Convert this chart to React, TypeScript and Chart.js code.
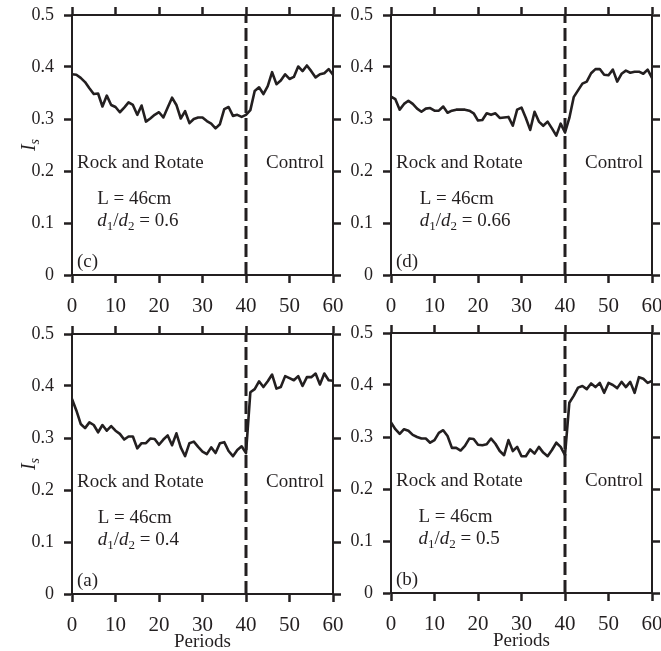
import React, { useEffect, useRef } from 'react';
import { Chart, registerables } from 'chart.js';

Chart.register(...registerables);

// ---------------- data ----------------
const periods = [
  0, 1, 2, 3, 4, 5, 6, 7, 8, 9, 10, 11, 12, 13, 14, 15, 16, 17, 18, 19, 20,
  21, 22, 23, 24, 25, 26, 27, 28, 29, 30, 31, 32, 33, 34, 35, 36, 37, 38, 39, 40,
  41, 42, 43, 44, 45, 46, 47, 48, 49, 50, 51, 52, 53, 54, 55, 56, 57, 58, 59, 60,
];

const xTickValues = [0, 10, 20, 30, 40, 50, 60];
const xTickLabels = ['0', '10', '20', '30', '40', '50', '60'];
const yTickValues = [0, 0.1, 0.2, 0.3, 0.4, 0.5];
const yTickLabels = ['0', '0.1', '0.2', '0.3', '0.4', '0.5'];

const phaseSwitch = 40;
const phaseLabels = ['Rock and Rotate', 'Control'];
const lengthLabel = 'L = 46cm';
const xAxisTitle = 'Periods';

// (c) d1/d2 = 0.6
const seriesC = [
  0.386, 0.385, 0.379, 0.371, 0.359, 0.348, 0.349, 0.324, 0.345, 0.327, 0.323,
  0.313, 0.322, 0.332, 0.327, 0.308, 0.326, 0.295, 0.301, 0.308, 0.313,
  0.303, 0.322, 0.341, 0.327, 0.301, 0.315, 0.292, 0.300, 0.303, 0.303,
  0.296, 0.291, 0.282, 0.290, 0.319, 0.323, 0.306, 0.308, 0.304, 0.308,
  0.317, 0.354, 0.361, 0.348, 0.363, 0.390, 0.367, 0.374, 0.386, 0.377,
  0.381, 0.401, 0.392, 0.403, 0.392, 0.380, 0.386, 0.388, 0.396, 0.385,
];
// (d) d1/d2 = 0.66
const seriesD = [
  0.343, 0.338, 0.318, 0.329, 0.335, 0.329, 0.320, 0.314, 0.320, 0.321, 0.316,
  0.316, 0.324, 0.312, 0.316, 0.318, 0.318, 0.318, 0.316, 0.311, 0.297,
  0.298, 0.311, 0.308, 0.311, 0.302, 0.303, 0.304, 0.287, 0.318, 0.322,
  0.302, 0.279, 0.314, 0.295, 0.287, 0.295, 0.282, 0.268, 0.291, 0.274,
  0.302, 0.342, 0.355, 0.368, 0.372, 0.388, 0.396, 0.396, 0.385, 0.384,
  0.395, 0.372, 0.387, 0.393, 0.389, 0.391, 0.391, 0.387, 0.395, 0.379,
];
// (a) d1/d2 = 0.4
const seriesA = [
  0.375, 0.353, 0.327, 0.319, 0.330, 0.325, 0.311, 0.325, 0.314, 0.323, 0.314,
  0.308, 0.297, 0.303, 0.303, 0.280, 0.290, 0.290, 0.299, 0.298, 0.287,
  0.297, 0.305, 0.286, 0.309, 0.282, 0.265, 0.290, 0.293, 0.283, 0.274,
  0.269, 0.282, 0.271, 0.290, 0.292, 0.275, 0.265, 0.277, 0.284, 0.271,
  0.388, 0.394, 0.409, 0.398, 0.409, 0.422, 0.395, 0.398, 0.419, 0.415,
  0.411, 0.419, 0.400, 0.417, 0.417, 0.424, 0.403, 0.424, 0.411, 0.410,
];
// (b) d1/d2 = 0.5
const seriesB = [
  0.328, 0.315, 0.306, 0.315, 0.312, 0.304, 0.300, 0.297, 0.297, 0.289, 0.294,
  0.308, 0.313, 0.302, 0.279, 0.279, 0.274, 0.283, 0.297, 0.296, 0.285,
  0.284, 0.286, 0.297, 0.287, 0.273, 0.265, 0.294, 0.273, 0.281, 0.263,
  0.263, 0.276, 0.268, 0.281, 0.270, 0.263, 0.275, 0.289, 0.281, 0.265,
  0.366, 0.379, 0.395, 0.398, 0.392, 0.403, 0.396, 0.404, 0.385, 0.404,
  0.400, 0.394, 0.406, 0.396, 0.406, 0.385, 0.415, 0.412, 0.404, 0.408,
];

// ---------------- styling / layout ----------------
const FONT = "'Liberation Serif', 'Times New Roman', serif";
const INK = '#231f20';

interface PanelDef {
  series: number[];
  letter: string;
  ratio: string;
  left: number;
  top: number;
  width: number;
  height: number;
  wy: number;
  wr: number;
  ht: number;
  hx: number;
  yTitle: boolean;
  xTitle: boolean;
  textX: number;
}

const panels: PanelDef[] = [
  { series: seriesC, letter: '(c)', ratio: '0.6', left: 8, top: 3, width: 337, height: 318, wy: 64, wr: 12, ht: 12, hx: 46, yTitle: true, xTitle: false, textX: 5.8 },
  { series: seriesD, letter: '(d)', ratio: '0.66', left: 341, top: 3, width: 320, height: 318, wy: 50, wr: 9, ht: 12, hx: 46, yTitle: false, xTitle: false, textX: 6.6 },
  { series: seriesA, letter: '(a)', ratio: '0.4', left: 8, top: 322, width: 337, height: 331, wy: 64, wr: 12, ht: 12, hx: 59, yTitle: true, xTitle: true, textX: 5.9 },
  { series: seriesB, letter: '(b)', ratio: '0.5', left: 341, top: 321, width: 320, height: 331, wy: 50, wr: 9, ht: 12, hx: 59, yTitle: false, xTitle: true, textX: 6.3 },
];

function drawRatio(ctx: CanvasRenderingContext2D, x: number, y: number, ratio: string) {
  const size = 19;
  const sub = Math.round(size * 0.7);
  const parts = [
    { t: 'd', f: `italic ${size}px ${FONT}`, dy: 0 },
    { t: '1', f: `${sub}px ${FONT}`, dy: size * 0.25 },
    { t: '/', f: `${size}px ${FONT}`, dy: 0 },
    { t: 'd', f: `italic ${size}px ${FONT}`, dy: 0 },
    { t: '2', f: `${sub}px ${FONT}`, dy: size * 0.25 },
    { t: ' = ' + ratio, f: `${size}px ${FONT}`, dy: 0 },
  ];
  let cx = x;
  for (const p of parts) {
    ctx.font = p.f;
    ctx.fillText(p.t, cx, y + p.dy);
    cx += ctx.measureText(p.t).width;
  }
}

const annotPlugin = {
  id: 'annot',
  afterDraw(chart: any, _args: any, opts: any) {
    const { ctx, chartArea, scales } = chart;
    const px = (v: number) => scales.x.getPixelForValue(v);
    const py = (v: number) => scales.y.getPixelForValue(v);
    ctx.save();
    ctx.fillStyle = INK;
    ctx.textBaseline = 'middle';
    ctx.textAlign = 'left';
    ctx.font = `19px ${FONT}`;
    ctx.fillText(phaseLabels[0], px(1.15), py(0.215));
    ctx.fillText(phaseLabels[1], px(44.6), py(0.215));
    ctx.fillText(lengthLabel, px(opts.textX), py(0.146));
    drawRatio(ctx, px(opts.textX), py(0.103), opts.ratio);
    ctx.font = `19px ${FONT}`;
    ctx.fillText(opts.letter, px(1.15), py(0.025));

    if (opts.yTitle) {
      ctx.save();
      ctx.translate(chartArea.left - 42, (chartArea.top + chartArea.bottom) / 2);
      ctx.rotate(-Math.PI / 2);
      ctx.font = `italic 20px ${FONT}`;
      const wI = ctx.measureText('I').width;
      ctx.font = `italic 14px ${FONT}`;
      const wS = ctx.measureText('s').width;
      const start = -(wI + wS) / 2;
      ctx.font = `italic 20px ${FONT}`;
      ctx.fillText('I', start, 0);
      ctx.font = `italic 14px ${FONT}`;
      ctx.fillText('s', start + wI, 5);
      ctx.restore();
    }
    ctx.restore();
  },
};

function axis(kind: 'x' | 'y', position: string, size: number, showLabels: boolean, title?: string) {
  const isX = kind === 'x';
  const values = isX ? xTickValues : yTickValues;
  const labels = isX ? xTickLabels : yTickLabels;
  return {
    type: 'linear',
    position,
    axis: kind,
    min: values[0],
    max: values[values.length - 1],
    afterBuildTicks: (s: any) => {
      s.ticks = values.map((v) => ({ value: v }));
    },
    ticks: {
      display: showLabels,
      callback: (_v: any, i: number) => labels[i],
      font: { family: FONT, size: isX ? 21 : 18 },
      color: INK,
      padding: isX ? 11 : 10,
      maxRotation: 0,
      autoSkip: false,
    },
    grid: {
      display: true,
      drawOnChartArea: false,
      drawTicks: true,
      tickLength: 8,
      tickWidth: 2.5,
      tickColor: INK,
      color: INK,
    },
    border: { display: true, color: INK, width: 2 },
    title: title
      ? { display: true, text: title, font: { family: FONT, size: 19 }, color: INK, padding: { top: 0, bottom: 0 } }
      : { display: false },
    afterFit: (s: any) => {
      if (isX) s.height = size;
      else s.width = size;
      s.paddingLeft = 0;
      s.paddingRight = 0;
      s.paddingTop = 0;
      s.paddingBottom = 0;
    },
  };
}

function Panel(p: PanelDef) {
  const ref = useRef<HTMLCanvasElement | null>(null);
  useEffect(() => {
    if (!ref.current) return;
    const chart = new Chart(ref.current, {
      type: 'line',
      data: {
        datasets: [
          {
            data: periods.map((t, i) => ({ x: t, y: p.series[i] })),
            borderColor: INK,
            borderWidth: 2.6,
            pointRadius: 0,
            tension: 0,
            fill: false,
            borderJoinStyle: 'round',
          },
          {
            data: [
              { x: phaseSwitch, y: yTickValues[0] },
              { x: phaseSwitch, y: yTickValues[yTickValues.length - 1] },
            ],
            borderColor: INK,
            borderWidth: 3,
            borderDash: [13, 5],
            pointRadius: 0,
            fill: false,
          },
        ],
      } as any,
      options: {
        animation: false,
        responsive: false,
        events: [],
        layout: { padding: 0 },
        plugins: {
          legend: { display: false },
          tooltip: { enabled: false },
          annot: { letter: p.letter, ratio: p.ratio, yTitle: p.yTitle, textX: p.textX },
        } as any,
        scales: {
          x: axis('x', 'bottom', p.hx, true, p.xTitle ? xAxisTitle : undefined),
          x2: axis('x', 'top', p.ht, false),
          y: axis('y', 'left', p.wy, true),
          y2: axis('y', 'right', p.wr, false),
        } as any,
      },
      plugins: [annotPlugin as any],
    });
    return () => chart.destroy();
  }, []);
  return (
    <canvas
      ref={ref}
      width={p.width}
      height={p.height}
      style={{ position: 'absolute', left: p.left, top: p.top, width: p.width, height: p.height }}
    />
  );
}

export default function App() {
  return (
    <div style={{ position: 'absolute', left: 0, top: 0, width: 661, height: 651, overflow: 'hidden', background: '#fff' }}>
      {panels.map((p) => (
        <Panel key={p.letter} {...p} />
      ))}
    </div>
  );
}
